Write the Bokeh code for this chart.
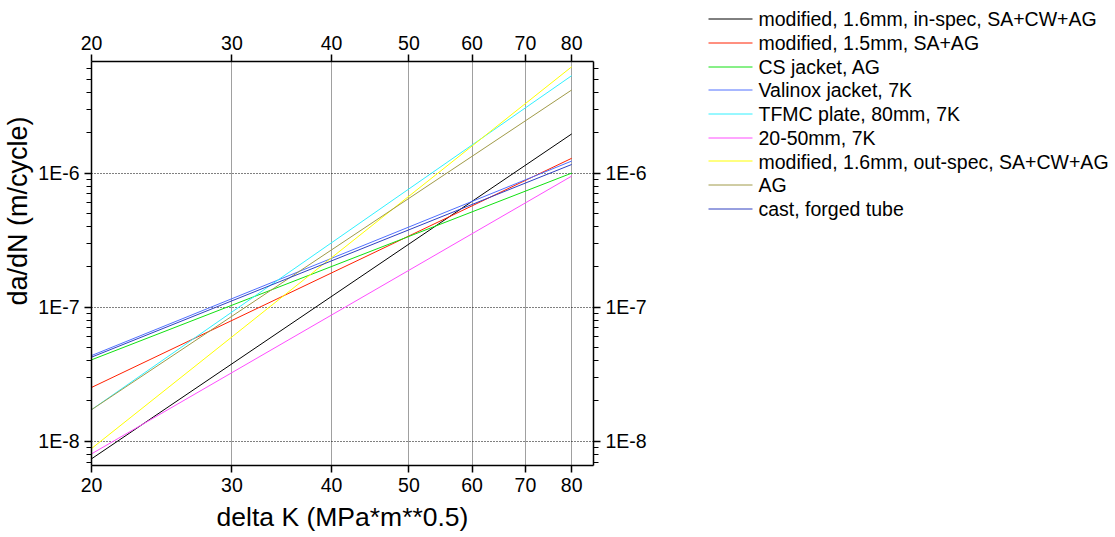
from bokeh.plotting import figure
from bokeh.layouts import row
from bokeh.models import (Range1d, LogAxis, FixedTicker, CustomJSTickFormatter)
from bokeh.core.properties import value
from bokeh.embed import file_html
from bokeh.resources import INLINE

# ---- data ----
delta_k = [20, 80]
names = [
    "modified, 1.6mm, in-spec, SA+CW+AG",
    "modified, 1.5mm, SA+AG",
    "CS jacket, AG",
    "Valinox jacket, 7K",
    "TFMC plate, 80mm, 7K",
    "20-50mm, 7K",
    "modified, 1.6mm, out-spec, SA+CW+AG",
    "AG",
    "cast, forged tube",
]
in_spec = [7.4e-9, 1.96e-6]
mod_15 = [2.52e-8, 1.29e-6]
cs_jacket = [4.05e-8, 1.0e-6]
valinox = [4.36e-8, 1.23e-6]
tfmc = [1.72e-8, 5.33e-6]
mm_20_50 = [8.06e-9, 9.5e-7]
out_spec = [8.83e-9, 6.21e-6]
ag = [1.72e-8, 4.17e-6]
cast = [4.24e-8, 1.16e-6]
series = [in_spec, mod_15, cs_jacket, valinox, tfmc, mm_20_50, out_spec, ag, cast]
colors = ["#000000", "#ff2000", "#10e010", "#5070ff", "#30f0ff",
          "#ff4dff", "#ffff00", "#a09a48", "#3040c0"]

x_ticks = [20, 30, 40, 50, 60, 70, 80]
y_ticks = [1e-8, 1e-7, 1e-6]
y_minor = [m * d for d in [1e-9, 1e-8, 1e-7, 1e-6] for m in range(2, 10)]

x_label = "delta K (MPa*m**0.5)"
y_label = "da/dN (m/cycle)"

FONT = "Liberation Sans"
LEFT_W = 650
W, H = 1115, 537

p = figure(width=LEFT_W, height=H, x_axis_type="log", y_axis_type="log",
           x_range=Range1d(20, 85.2), y_range=Range1d(6.6e-9, 6.8e-6),
           output_backend="svg", toolbar_location=None,
           min_border_left=90, min_border_right=57, min_border_top=61,
           min_border_bottom=72)
p.outline_line_color = None
p.background_fill_color = "white"
p.border_fill_color = "white"

for vals, col in zip(series, colors):
    p.line(delta_k, vals, line_color=col, line_width=1)

xticker = FixedTicker(ticks=x_ticks, minor_ticks=[])
yticker = FixedTicker(ticks=y_ticks, minor_ticks=y_minor)
xfmt = CustomJSTickFormatter(code="return Math.round(tick).toString();")
yfmt = CustomJSTickFormatter(code="return '1E' + Math.round(Math.log10(tick));")

bottom_axis = p.below[0]
left_axis = p.left[0]
bottom_axis.ticker = xticker
bottom_axis.formatter = xfmt
left_axis.ticker = yticker
left_axis.formatter = yfmt

top_axis = LogAxis(ticker=xticker, formatter=xfmt)
p.add_layout(top_axis, "above")
right_axis = LogAxis(ticker=yticker, formatter=yfmt)
p.add_layout(right_axis, "right")

for ax in [bottom_axis, left_axis, top_axis, right_axis]:
    ax.axis_line_width = 1.5
    ax.axis_line_color = "black"
    ax.major_tick_line_width = 1.5
    ax.major_tick_line_color = "black"
    ax.minor_tick_line_width = 1.2
    ax.minor_tick_line_color = "black"
    ax.major_tick_in = 0
    ax.major_tick_out = 7
    ax.minor_tick_in = 0
    ax.minor_tick_out = 5
    ax.major_label_text_font = FONT
    ax.major_label_text_font_size = "19.5px"
    ax.major_label_text_color = "black"
    ax.major_label_standoff = 5

bottom_axis.axis_label = x_label
bottom_axis.axis_label_text_font = FONT
bottom_axis.axis_label_text_font_size = "26.5px"
bottom_axis.axis_label_text_font_style = "normal"
bottom_axis.axis_label_text_color = "black"
bottom_axis.axis_label_standoff = 7

# label sits above the frame centre in the reference: pad its start with no-break spaces
left_axis.axis_label = "\u00a0" * 14 + y_label
left_axis.axis_label_text_font = FONT
left_axis.axis_label_text_font_size = "27px"
left_axis.axis_label_text_font_style = "normal"
left_axis.axis_label_text_color = "black"
left_axis.axis_label_standoff = 2

p.xgrid.ticker = xticker
p.xgrid.grid_line_color = "#a0a0a0"
p.xgrid.grid_line_width = 1
p.ygrid.ticker = FixedTicker(ticks=y_ticks, minor_ticks=[])
p.ygrid.grid_line_color = "black"
p.ygrid.grid_line_dash = "1 2"
p.ygrid.grid_line_width = 1

# ---- legend panel (screen-pixel coordinates, y downwards) ----
p2 = figure(width=W - LEFT_W, height=H, x_axis_location=None, y_axis_location=None,
            x_range=Range1d(LEFT_W, W), y_range=Range1d(H, 0),
            output_backend="svg", toolbar_location=None, min_border=0)
if "frame_align" in p2.properties():
    p2.frame_align = False
p2.outline_line_color = None
p2.grid.visible = False
p2.background_fill_color = "white"
p2.border_fill_color = "white"

first_row, pitch = 18.5, 23.75
sw_x0, sw_x1, txt_x = 708, 752, 758
row_y = [first_row + pitch * i for i in range(len(names))]
swatch_y = [round(y - 0.5) + 0.5 for y in row_y]
p2.segment(x0=[sw_x0] * len(names), y0=swatch_y, x1=[sw_x1] * len(names), y1=swatch_y,
           line_color=colors, line_width=1)
p2.text(x=[txt_x] * len(names), y=row_y, text=names,
        text_font=value(FONT), text_font_size=value("19.5px"),
        text_color="black", text_align="left", text_baseline="middle")

layout = row(p, p2)
open("out.html", "w").write(file_html(layout, INLINE))
